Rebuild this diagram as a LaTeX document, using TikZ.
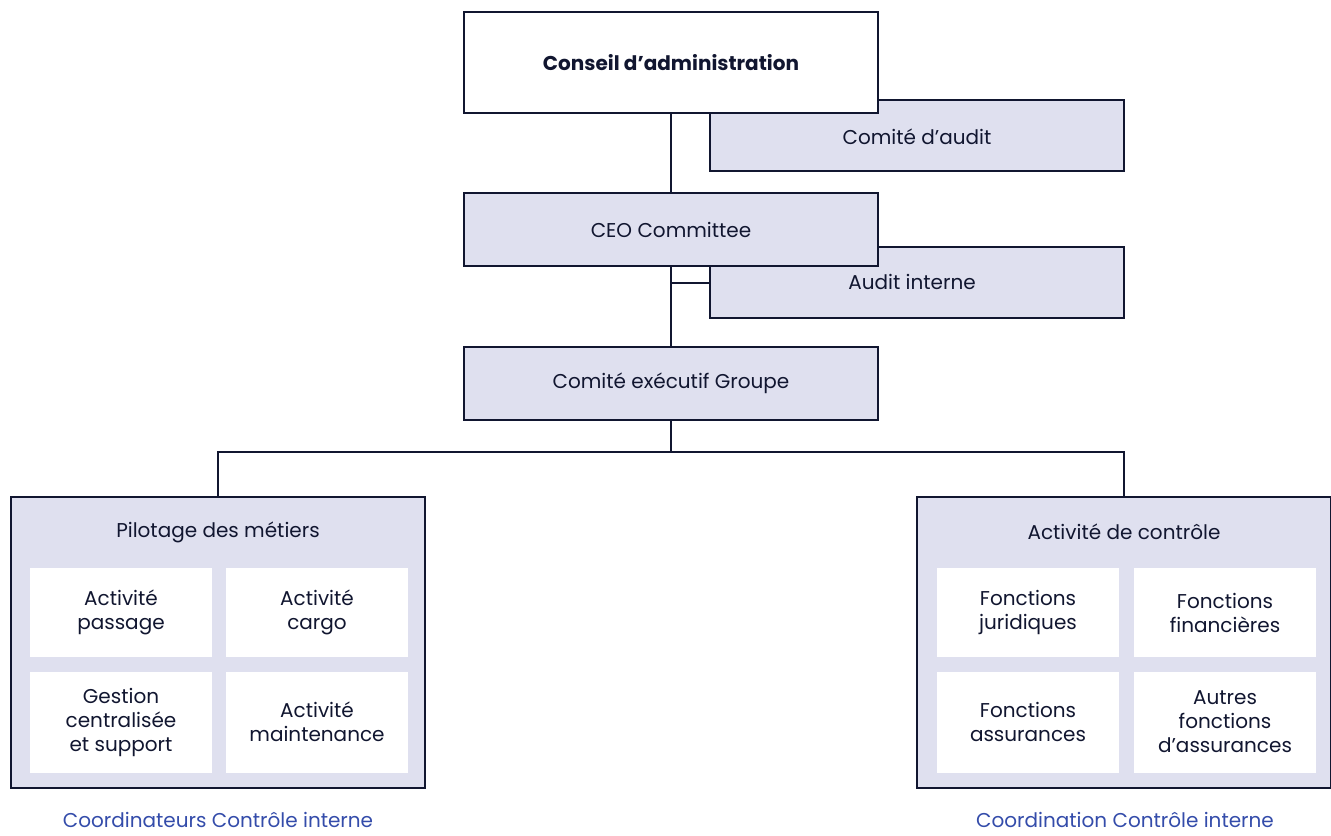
\documentclass[tikz,border=0pt]{standalone}
\usepackage{fontspec}
\setmainfont{Poppins}
\usepackage{tikz}
\usepackage{xcolor}

\definecolor{navy}{RGB}{17,22,48}
\definecolor{lavender}{RGB}{223,224,239}
\definecolor{capblue}{RGB}{52,76,170}

\begin{document}
\begin{tikzpicture}[x=0.75pt,y=-0.75pt,
  every node/.style={inner sep=0pt,outer sep=0pt,text=navy,align=center,
    font=\fontsize{15}{18}\selectfont},
  topbox/.style={draw=navy,line width=1.5pt,fill=lavender,
    minimum width=310.5pt,minimum height=54.75pt},
  bigbox/.style={draw=navy,line width=1.5pt,fill=lavender,
    minimum width=310.5pt,minimum height=218.25pt},
  cellbox/.style={fill=white,minimum width=136.5pt},
  link/.style={draw=navy,line width=1.5pt},
  caption/.style={text=capblue,anchor=base,text depth=0pt}]

\useasboundingbox (0,0) rectangle (1331,835);

% comites rattaches
\node[topbox,minimum height=53.25pt] (audit) at (917,135.5) {};
\node at (917,137) {Comité d’audit};
\node[topbox,fill=white,minimum height=75.75pt] (conseil) at (671,62.5)
  {\bfseries Conseil d’administration};
\node[topbox,minimum height=53.25pt] (interne) at (917,282.5) {};
\node at (912,282) {Audit interne};
\node[topbox] (ceo) at (671,229.5) {CEO Committee};
\node[topbox] (comex) at (671,383.5) {Comité exécutif Groupe};

\draw[link] (conseil) -- (ceo);
\draw[link] (ceo) -- (comex);
\draw[link] (ceo.south |- interne.west) -- (interne.west);

% les deux poles
\node[bigbox] (pilotage) at (218,642.5) {};
\node[bigbox] (controle) at (1124,642.5) {};
\coordinate (bus) at (671,452);
\draw[link] (comex) -- (bus) -| (pilotage);
\draw[link] (bus) -| (controle);

\node (pilotagetitre) at (218,532) {Pilotage des métiers};
\node[cellbox,minimum height=66.75pt] (passage) at (121,612.5) {Activité\\passage};
\node[cellbox,minimum height=66.75pt] (cargo) at (317,612.5) {Activité\\cargo};
\node[cellbox,minimum height=75.75pt] (gestion) at (121,722) {Gestion\\centralisée\\et support};
\node[cellbox,minimum height=75.75pt] (maintenance) at (317,722) {Activité\\maintenance};

\node (controletitre) at (1124,532) {Activité de contrôle};
\node[cellbox,minimum height=66.75pt] (juridiques) at (1028,612.5) {Fonctions\\juridiques};
\node[cellbox,minimum height=66.75pt] (financieres) at (1225,612.5) {Fonctions\\financières};
\node[cellbox,minimum height=75.75pt] (assurances) at (1028,722) {Fonctions\\assurances};
\node[cellbox,minimum height=75.75pt] (autres) at (1225,722) {Autres\\fonctions\\d’assurances};

\node[caption] (coordinateurs) at (218,827) {Coordinateurs Contrôle interne};
\node[caption] (coordination) at (1125,827) {Coordination Contrôle interne};

\end{tikzpicture}
\end{document}
